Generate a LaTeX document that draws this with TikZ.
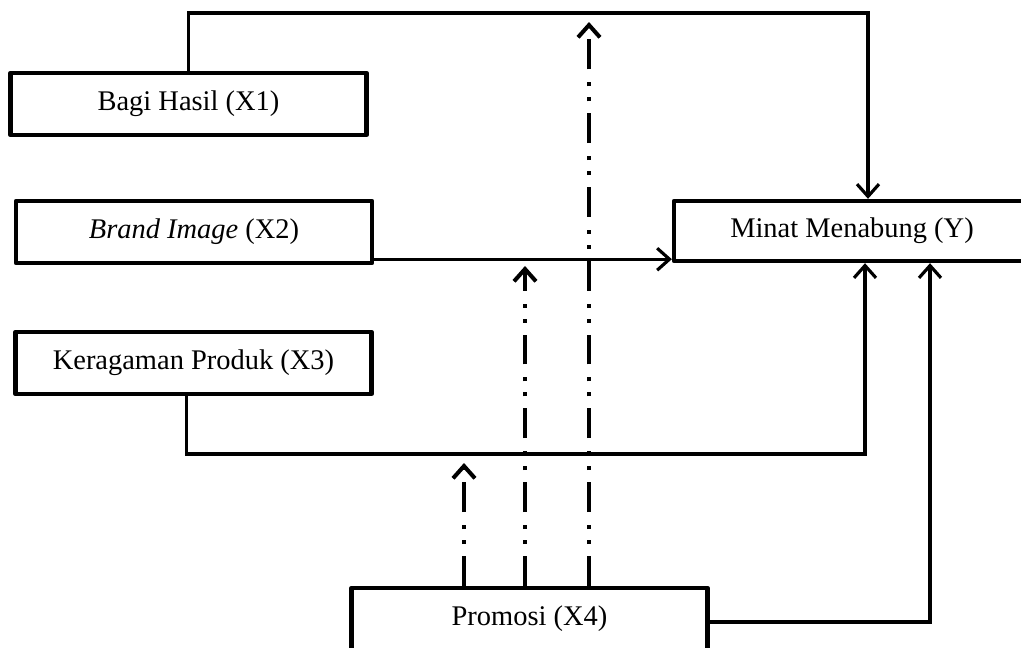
\documentclass[tikz,border=0pt]{standalone}
\usepackage{fontspec}
\setmainfont{Liberation Serif}
\usetikzlibrary{arrows.meta,calc}

\begin{document}
\begin{tikzpicture}[x=0.02cm,y=-0.02cm,>={Straight Barb[length=7pt,width=12.5pt]},
   box/.style={draw,line width=2.5pt,line join=round,minimum width=7.12cm,minimum height=1.24cm,inner sep=0pt,font=\fontsize{16.2}{19}\selectfont},
   link/.style={line width=1.8pt},
   promo/.style={line width=2.3pt,dash pattern=on 17pt off 6.8pt on 2.3pt off 6.2pt on 2.3pt off 7.4pt}]
   \useasboundingbox (0,0) rectangle (1021,647);

   \node[box] (X1) at (188.5,104) {Bagi Hasil (X1)};
   \node[box] (X2) at (194,232) {\textit{Brand Image} (X2)};
   \node[box] (X3) at (193.5,363) {Keragaman Produk (X3)};
   \node[box,minimum height=1.2cm] (Y) at (852,231) {Minat Menabung (Y)};
   \node[box] (X4) at (529.5,619) {Promosi (X4)};

   \coordinate (top) at (868,13);
   \coordinate (bot) at (865,454);
   \coordinate (rgt) at (930,622);
   \coordinate (m1) at (464,463);
   \coordinate (m2) at (525,266);
   \coordinate (m3) at (589,22);

   \draw [link,->] (X1.north) |- (top) -- (top |- Y.north) ;
   \draw [link,->] ($(X2.south east)+(0,-6)$) -- ($(Y.south west)+(0,-4)$) ;
   \draw [link,->] ($(X3.south)+(-7,0)$) |- (bot) -- (bot |- Y.south) ;
   \draw [link,->] (X4.east |- rgt) -- (rgt) -- (rgt |- Y.south) ;

   \draw [promo,->] (m1 |- X4.north) -- (m1) ;
   \draw [promo,->] (m2 |- X4.north) -- (m2) ;
   \draw [promo,->] (m3 |- X4.north) -- (m3) ;
\end{tikzpicture}
\end{document}
